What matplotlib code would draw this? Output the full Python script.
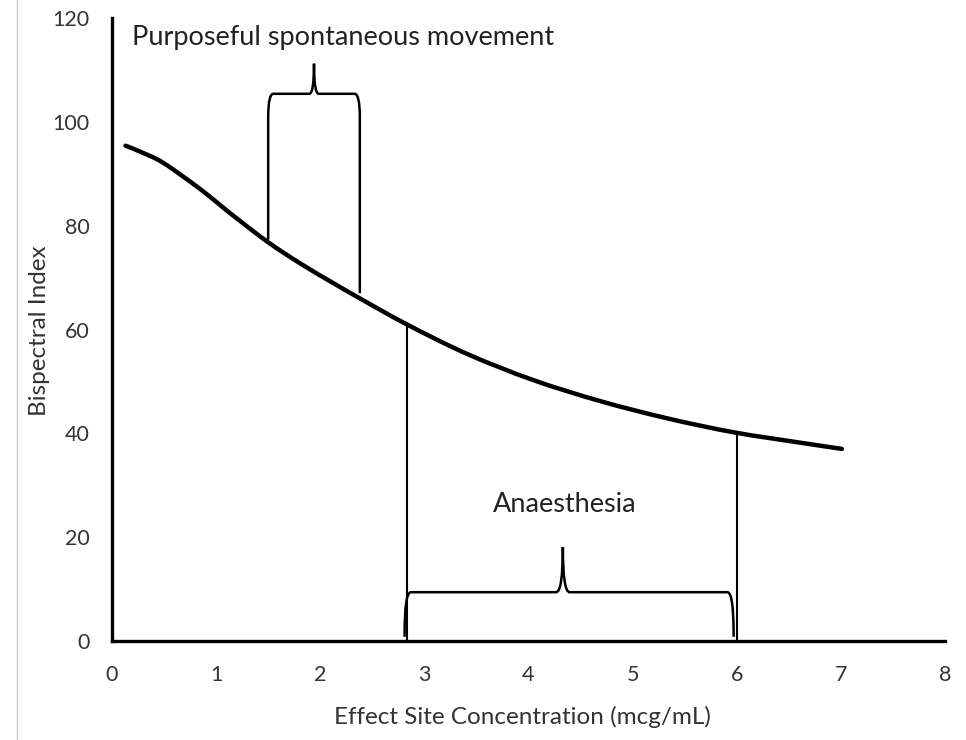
#!/usr/bin/env python
# Bispectral index vs effect site concentration, with brace annotations

import matplotlib
matplotlib.use("Agg")
import matplotlib.pyplot as plt
from matplotlib.path import Path
from matplotlib.patches import PathPatch
from matplotlib.lines import Line2D

# curve
conc = [0.13, 0.30, 0.50, 0.85, 1.16, 1.50, 1.81, 2.12, 2.38, 2.83,
        3.41, 4.04, 4.69, 5.33, 5.97, 6.61, 7.01]
bis = [95.4, 94.0, 92.0, 87.0, 82.0, 76.8, 72.7, 69.0, 66.0, 61.0,
       55.3, 50.3, 46.2, 42.9, 40.2, 38.2, 37.0]

# drop lines bounding anaesthesia range
drop_x = [2.83, 6.0]
drop_top = [61.0, 40.2]

# brace for purposeful movement: legs, bar height, tip
move_left, move_right = 1.50, 2.38
move_left_bottom, move_right_bottom = 77.3, 67.0
move_bar, move_tip, move_tip_x = 105.4, 111.2, 1.94

# brace for anaesthesia
anaes_left, anaes_right = 2.81, 5.97
anaes_bottom, anaes_bar, anaes_tip, anaes_tip_x = 0.8, 9.4, 18.1, 4.33

plt.rcParams["font.family"] = ["Lato", "DejaVu Sans"]

fig = plt.figure(figsize=(9.66, 7.4), dpi=100)
ax = fig.add_axes([112 / 966, 1 - 641 / 740, 833 / 966, 623 / 740])


def smooth_path(xs, ys):
    # Catmull-Rom through the read points, drawn as cubic Bezier segments
    verts = [(xs[0], ys[0])]
    codes = [Path.MOVETO]
    n = len(xs)
    for i in range(n - 1):
        x0, y0 = (xs[i - 1], ys[i - 1]) if i > 0 else (xs[i], ys[i])
        x1, y1 = xs[i], ys[i]
        x2, y2 = xs[i + 1], ys[i + 1]
        x3, y3 = (xs[i + 2], ys[i + 2]) if i + 2 < n else (x2, y2)
        verts += [(x1 + (x2 - x0) / 6, y1 + (y2 - y0) / 6),
                  (x2 - (x3 - x1) / 6, y2 - (y3 - y1) / 6),
                  (x2, y2)]
        codes += [Path.CURVE4] * 3
    return Path(verts, codes)


ax.add_patch(PathPatch(smooth_path(conc, bis), fill=False, lw=3.2,
                       edgecolor="black", capstyle="round", zorder=3))

for x, top in zip(drop_x, drop_top):
    ax.plot([x, x], [0, top], color="black", lw=1.5, zorder=2)


def brace(x0, x1, y0a, y0b, bar, tip, tipx, corner_dx, corner_dy, tip_dx):
    C = Path.CURVE3
    verts = [
        (x0, y0a), (x0, bar - corner_dy),
        (x0, bar), (x0 + corner_dx, bar),
        (tipx - tip_dx, bar),
        (tipx, bar), (tipx, tip),
        (tipx, bar), (tipx + tip_dx, bar),
        (x1 - corner_dx, bar),
        (x1, bar), (x1, bar - corner_dy),
        (x1, y0b),
    ]
    codes = [Path.MOVETO, Path.LINETO, C, C, Path.LINETO, C, C, C, C,
             Path.LINETO, C, C, Path.LINETO]
    ax.add_patch(PathPatch(Path(verts, codes), fill=False, lw=1.8,
                           edgecolor="black", zorder=2, capstyle="butt"))


brace(move_left, move_right, move_left_bottom, move_right_bottom,
      move_bar, move_tip, move_tip_x, 0.05, 4.5, 0.045)
brace(anaes_left, anaes_right, anaes_bottom, anaes_bottom,
      anaes_bar, anaes_tip, anaes_tip_x, 0.06, 8.0, 0.065)

ax.text(2.22, 116.3, "Purposeful spontaneous movement", fontsize=19.5,
        ha="center", va="center", color="#222222")
ax.text(4.35, 26.2, "Anaesthesia", fontsize=19.5, ha="center", va="center",
        color="#222222")

ax.set_xlim(0, 8)
ax.set_ylim(0, 120)
ax.set_xticks(range(0, 9))
ax.set_yticks(range(0, 121, 20))
ax.tick_params(length=0, labelsize=15.5, labelcolor="#333333")
ax.tick_params(axis="x", pad=17)
ax.tick_params(axis="y", pad=16)
for side in ("top", "right"):
    ax.spines[side].set_visible(False)
for side in ("left", "bottom"):
    ax.spines[side].set_linewidth(2.4)
    ax.spines[side].set_color("black")

fig.text(522 / 966, 1 - 717 / 740, "Effect Site Concentration (mcg/mL)",
         fontsize=17.5, ha="center", va="center", color="#333333")
fig.text(40 / 966, 1 - 331 / 740, "Bispectral Index", fontsize=17.5,
         rotation=90, ha="center", va="center", color="#333333")

# thin grey border on the left of the picture
fig.add_artist(Line2D([17 / 966, 17 / 966], [0, 1], color="#c8c8c8", lw=1))

fig.savefig("out.png", dpi=100)
